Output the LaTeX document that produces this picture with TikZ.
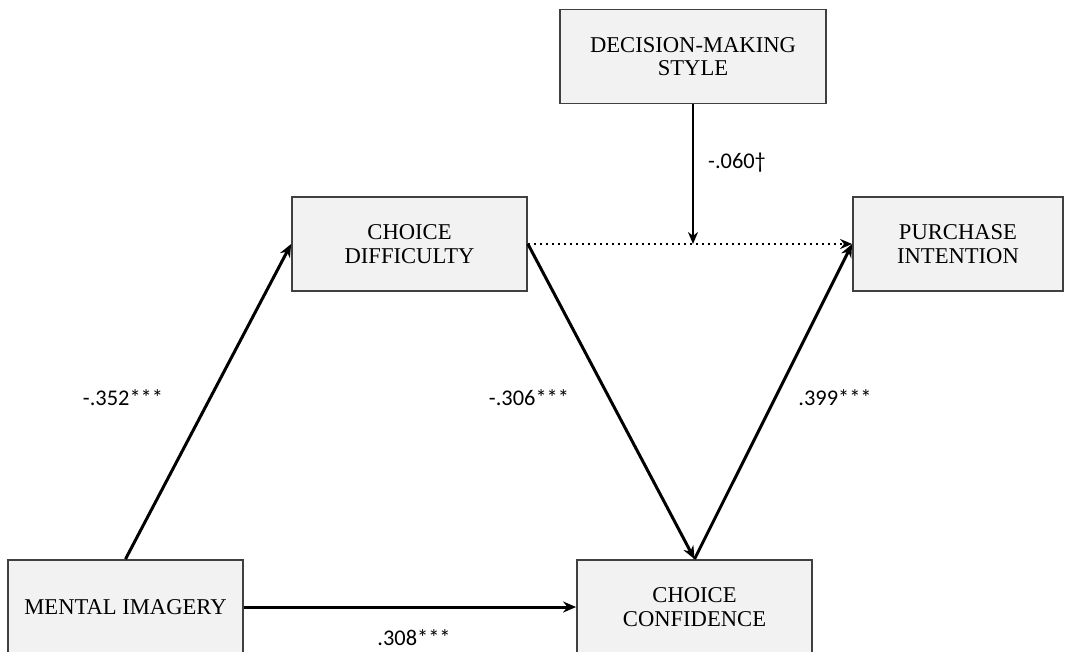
\documentclass[tikz,border=0pt]{standalone}
\usepackage{fontspec}
\setmainfont{Liberation Serif}
\newfontfamily\numfont{Carlito}
\usetikzlibrary{arrows.meta}
\begin{document}
\begin{tikzpicture}[x = 0.5pt, y = -0.5pt,
    varbox/.style = {draw = black!75, line width = 0.9pt, fill = black!5, align = center,
        minimum width = 117.5pt, minimum height = 47pt, inner sep = 2pt,
        font = \fontsize{11.3}{11.8}\selectfont},
    path/.style = {line width = 1.5pt, -{Stealth[length = 6.5pt, width = 5.5pt]}},
    coef/.style = {font = \numfont\fontsize{11.2}{13}\selectfont}]
\useasboundingbox (0, 0) rectangle (1076, 652);
\node[varbox, minimum width = 133pt] (style) at (693, 56.5) {DECISION-MAKING\\STYLE};
\node[varbox] (diff) at (409.5, 244) {CHOICE\\DIFFICULTY};
\node[varbox, minimum width = 105pt] (intent) at (958, 244) {PURCHASE\\INTENTION};
\node[varbox] (imag) at (125.5, 607) {MENTAL IMAGERY};
\node[varbox] (conf) at (694.5, 607) {CHOICE\\CONFIDENCE};
\draw[path] (imag.north) -- (diff.west);
\draw[path] (diff.east) -- (conf.north);
\draw[path] (conf.north) -- (intent.west);
\draw[path] (imag.east) -- (conf.west);
\draw[line width = 1pt, dotted, -{Stealth[length = 6pt, width = 5pt]}] (diff.east) -- (intent.west);
\coordinate (meet) at (style.south |- diff.east);
\draw[line width = 1.1pt, -{Stealth[length = 6pt, width = 5pt]}] (style.south) -- (meet);
\node[coef] (c1) at (123, 398) {-.352***};
\node[coef] (c2) at (529, 398) {-.306***};
\node[coef] (c3) at (835, 398) {.399***};
\node[coef] (c4) at (414, 638) {.308***};
\node[coef] (c5) at (737, 163) {-.060†};
\end{tikzpicture}
\end{document}
